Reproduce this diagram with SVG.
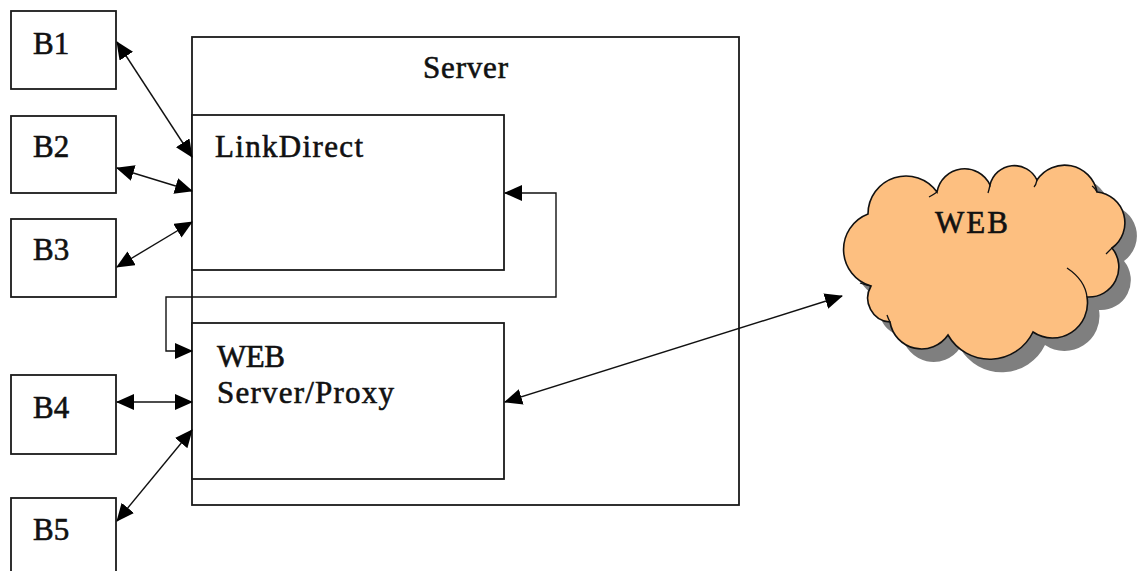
<svg xmlns="http://www.w3.org/2000/svg" width="1138" height="571" viewBox="0 0 1138 571">
<defs>
<style>
.box{fill:#fff;stroke:#1a1a1a;stroke-width:1.8}
.t{font-family:"Liberation Serif","Times New Roman",serif;font-size:31px;fill:#111;stroke:#111;stroke-width:0.6}
.c{fill:none;stroke:#111;stroke-width:1.4}
</style>
<marker id="ah" viewBox="0 0 18 16" refX="17" refY="8" markerWidth="18" markerHeight="16" markerUnits="userSpaceOnUse" orient="auto-start-reverse">
<path d="M0,0 L18,8 L0,16 Z" fill="#000"/>
</marker>
</defs>
<rect width="1138" height="571" fill="#fff"/>

<g id="server">
<rect class="box" x="192" y="37" width="547" height="468"/>
<text class="t" x="423" y="78" textLength="85">Server</text>
</g>
<g id="linkdirect">
<rect class="box" x="192" y="115" width="312" height="155"/>
<text class="t" x="215" y="157" textLength="148">LinkDirect</text>
</g>
<g id="webserver">
<rect class="box" x="192" y="323" width="312" height="156"/>
<text class="t" x="217" y="367" textLength="68">WEB</text>
<text class="t" x="217" y="403" textLength="177">Server/Proxy</text>
</g>
<g id="b1"><rect class="box" x="11" y="11" width="105" height="78"/><text class="t" x="33" y="54">B1</text></g>
<g id="b2"><rect class="box" x="11" y="116" width="105" height="77"/><text class="t" x="33" y="157">B2</text></g>
<g id="b3"><rect class="box" x="11" y="219" width="105" height="78"/><text class="t" x="33" y="260">B3</text></g>
<g id="b4"><rect class="box" x="11" y="375" width="105" height="79"/><text class="t" x="33" y="418">B4</text></g>
<g id="b5"><rect class="box" x="11" y="498" width="105" height="90"/><text class="t" x="33" y="540">B5</text></g>

<g id="web-cloud">
<path transform="translate(12,13)" fill="#7f7f7f" d="M868,214 A38,38 0 0 1 937,192 A28,28 0 0 1 990,185 A25,25 0 0 1 1037,180 A33,33 0 0 1 1097,192 A31,31 0 0 1 1112,248 A30,30 0 0 1 1087,297 A35,35 0 0 1 1033,332 A48,48 0 0 1 948,335 A32,32 0 0 1 890,322 A24,24 0 0 1 871,286 A38,38 0 0 1 868,214 Z"/>
<path fill="#fdbf80" stroke="#111" stroke-width="1.6" d="M868,214 A38,38 0 0 1 937,192 A28,28 0 0 1 990,185 A25,25 0 0 1 1037,180 A33,33 0 0 1 1097,192 A31,31 0 0 1 1112,248 A30,30 0 0 1 1087,297 A35,35 0 0 1 1033,332 A48,48 0 0 1 948,335 A32,32 0 0 1 890,322 A24,24 0 0 1 871,286 A38,38 0 0 1 868,214 Z"/>
<g fill="none" stroke="#111" stroke-width="1.3">
<path d="M871,286 Q865,285 860,283"/>
<path d="M937,192 Q933,195 929,197"/>
<path d="M990,185 Q989,190 988,193"/>
<path d="M1037,180 Q1036,185 1034,187"/>
<path d="M1097,192 Q1094,187 1092,186"/>
<path d="M1112,248 Q1108,252 1106,254"/>
<path d="M1087,297 Q1085,280 1067,268"/>
<path d="M890,322 Q888,318 887,315"/>
</g>
<text class="t" x="935" y="233" textLength="73">WEB</text>
</g>

<g id="connectors">
<line class="c" x1="117" y1="42" x2="192" y2="157" marker-start="url(#ah)" marker-end="url(#ah)"/>
<line class="c" x1="117" y1="168" x2="192" y2="191" marker-start="url(#ah)" marker-end="url(#ah)"/>
<line class="c" x1="117" y1="267" x2="192" y2="222" marker-start="url(#ah)" marker-end="url(#ah)"/>
<line class="c" x1="117" y1="402" x2="192" y2="402" marker-start="url(#ah)" marker-end="url(#ah)"/>
<line class="c" x1="117" y1="521" x2="192" y2="430" marker-start="url(#ah)" marker-end="url(#ah)"/>
<path class="c" d="M505,193 H556 V297 H166 V351 H192" marker-start="url(#ah)" marker-end="url(#ah)"/>
<line class="c" x1="505" y1="402" x2="842" y2="296" marker-start="url(#ah)" marker-end="url(#ah)"/>
</g>
</svg>
